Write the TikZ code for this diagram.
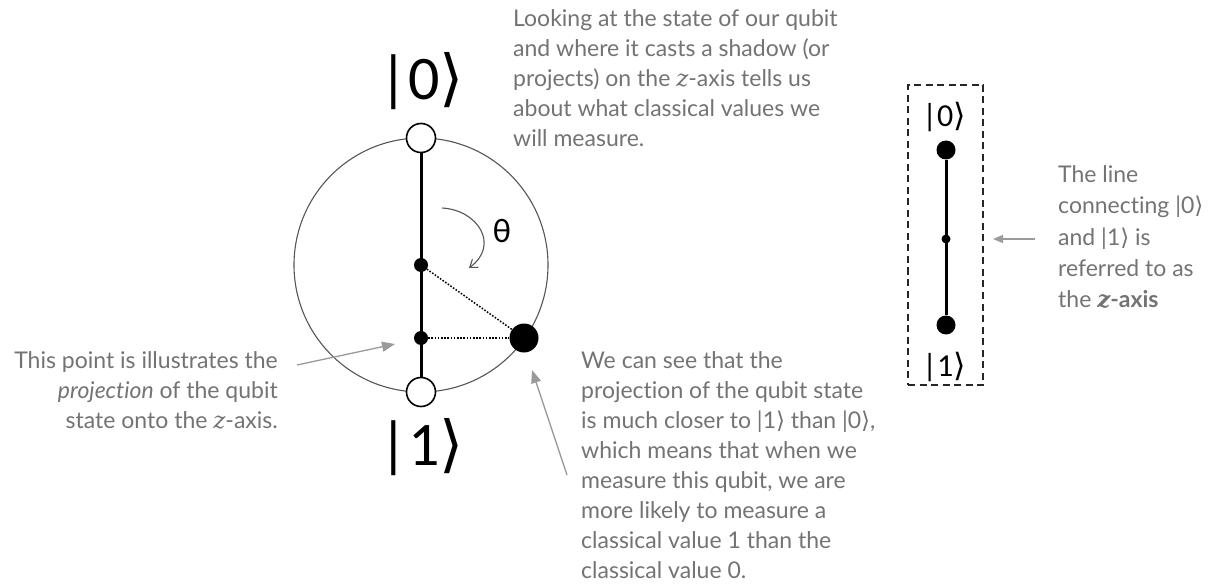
\documentclass[tikz,border=0pt]{standalone}
\usepackage{fontspec}
\setmainfont{Lato}[Ligatures=NoCommon]
\newfontfamily\kfont{Carlito}
\newfontfamily\djv{DejaVu Sans}
\newfontfamily\zfont{DejaVu Serif}
\usetikzlibrary{arrows.meta}
\definecolor{txt}{HTML}{737373}
\definecolor{arr}{HTML}{9A9A9A}
\definecolor{rim}{HTML}{555555}
\newcommand\rk{{\djv ⟩}}
\newcommand\zi{{\zfont\itshape z}}
\begin{document}
\begin{tikzpicture}[x=1pt,y=-1pt,
  note/.style={text=txt, font=\fontsize{23}{30}\selectfont, inner sep=0pt},
  garrow/.style={draw=arr, line width=1.3pt, -{Triangle[length=13pt,width=10pt]}},
  opendot/.style={circle, draw=black, line width=1.6pt, fill=white, minimum size=29pt, inner sep=0pt},
  fdot/.style={circle, fill=black, inner sep=0pt, minimum size=#1},
  bigket/.style={font=\kfont\fontsize{62}{62}\selectfont, inner sep=0pt},
  smallket/.style={font=\kfont\fontsize{32}{32}\selectfont, inner sep=0pt},
  axisline/.style={line width=3pt, black},
  proj/.style={line width=1.5pt, dash pattern=on 1.6pt off 1.6pt}
]
\useasboundingbox (0,0) rectangle (1215,585);

% Bloch circle
\node (bloch) [circle, draw=rim, line width=1.1pt, minimum size=254pt, inner sep=0pt] at (421,265) {};
\node (k0) [opendot] at (421,138) {};
\node (k1) [opendot] at (421,392) {};
\draw[axisline] (k0) -- (k1);
\node (c) [fdot=14pt] at (421,265) {};
\node (p) [fdot=14pt] at (421,338) {};
\node (s) [fdot=29pt] at (524,338) {};
\draw[proj] (c) -- (s);
\draw[proj] (p) -- (s);
\node (l0) [bigket] at (422,81) {|0\rk};
\node (l1) [bigket] at (422,447) {|1\rk};

% theta
\coordinate (t1) at (442,208);
\coordinate (t2) at (469,268);
\draw[line width=1.1pt, rim, -{Straight Barb[length=7pt,width=10pt]}] (t1) .. controls (478,210) and (500,245) .. (t2);
\node (theta) [font=\kfont\fontsize{34}{34}\selectfont, inner sep=0pt] at (502,231) {θ};

% notes
\node (top) [note, align=left, anchor=base west] at (513,147) {Looking at the state of our qubit\\and where it casts a shadow (or\\projects) on the \zi-axis tells us\\about what classical values we\\will measure.};
\node (left) [note, align=right, anchor=base east] at (278,428) {This point is illustrates the\\\textit{projection} of the qubit\\state onto the \zi-axis.};
\node (bot) [note, align=left, anchor=base west] at (581,578) {We can see that the\\projection of the qubit state\\is much closer to |1\rk{} than |0\rk,\\which means that when we\\measure this qubit, we are\\more likely to measure a\\classical value 1 than the\\classical value 0.};

\coordinate (la) at (297,365);
\coordinate (lb) at (395,344);
\draw[garrow] (la) -- (lb);
\coordinate (ba) at (567,475);
\coordinate (bb) at (532,370);
\draw[garrow] (ba) -- (bb);

% right: z-axis
\node (box) [draw=black!85, line width=1.3pt, dash pattern=on 7pt off 4.5pt, minimum width=75pt, minimum height=300pt, inner sep=0pt] at (945.5,235) {};
\node (z0) [fdot=19pt] at (946,150) {};
\node (zm) [fdot=9pt] at (946,239) {};
\node (z1) [fdot=19pt] at (946,325) {};
\draw[axisline] (z0) -- (z1);
\node (s0) [smallket] at (944,117) {|0\rk};
\node (s1) [smallket] at (944,367) {|1\rk};
\coordinate (ra) at (1035,239);
\coordinate (rb) at (993,239);
\draw[draw=arr, line width=1.3pt, -{Triangle[length=10pt,width=8pt]}] (ra) -- (rb);
\node (rt) [note, align=left, anchor=base west, font=\fontsize{23}{31}\selectfont] at (1058,307) {The line\\connecting |0\rk\\and |1\rk{} is\\referred to as\\the {\bfseries{\zfont\bfseries\itshape z}-axis}};
\end{tikzpicture}
\end{document}
